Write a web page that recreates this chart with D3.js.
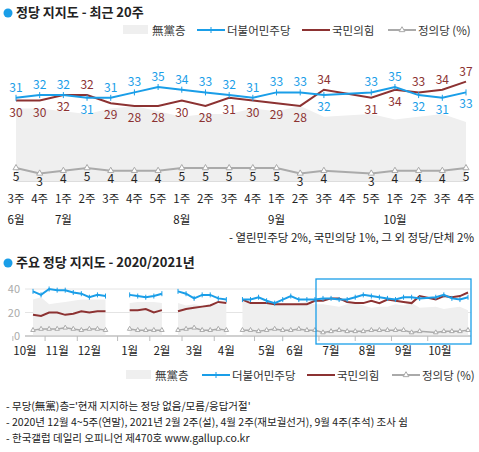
<!DOCTYPE html>
<html><head><meta charset="utf-8">
<script src="https://cdn.jsdelivr.net/npm/d3@7"></script>
<style>body{margin:0;background:#fff}svg{font-family:"Noto Sans CJK KR","Noto Sans",sans-serif}</style>
</head><body><svg id="c" width="479" height="452"></svg>
<script>
// recent 20 weeks
const weeks = ["3주","4주","1주","2주","3주","4주","5주","1주","2주","3주","4주","1주","2주","3주","4주","5주","1주","2주","3주","4주"];
const months = [["6월",0],["7월",2],["8월",7],["9월",11],["10월",16]];
const dem = [31,32,32,31,31,33,35,34,33,32,31,33,33,32,null,33,35,32,31,33];
const ppp = [30,30,32,32,29,28,28,30,28,31,30,29,28,34,null,31,34,33,34,37];
const jus = [5,3,4,5,4,4,4,5,5,5,5,5,3,4,null,3,4,4,4,5];
const none = [27,27,26,25,27,28,26,24,25,25,27,26,28,24,null,25,23,24,25,22];

// long series 2020/2021 (null = no survey)
const demL = [38,35,40,39,39,37,36,33,35,34,null,null,35,34,33,34,36,null,38,36,32,35,35,32,31,null,
  31,31,33,30,28,31,34,31,31].concat(dem);
const pppL = [18,17,20,20,18,19,21,20,21,21,null,null,22,22,23,20,22,null,21,23,24,25,26,29,28,null,
  31,28,28,28,27,27,27,27,27].concat(ppp);
const jusL = [5,6,6,6,7,6,5,6,6,5,null,null,6,5,5,5,5,null,5,6,7,5,5,6,5,null,
  5,5,4,5,6,5,5,6,5].concat(jus);
const noneL = [31,33,27,28,29,30,31,31,31,31,null,null,28,29,29,29,28,null,28,26,27,26,27,27,27,null,
  30,29,28,29,28,28,27,28,29].concat(none);
const breaksL = [10,11,17,25]; // weeks where the long chart lines break
const monthsL = [["10월",-1],["11월",3],["12월",7],["1월",12],["2월",16],["3월",20],["4월",24],["5월",29],["6월",32.5],["7월",37],["8월",41.5],["9월",46],["10월",50.5]];
const notes = ["- 무당(無黨)층='현재 지지하는 정당 없음/모름/응답거절'",
  "- 2020년 12월 4~5주(연말), 2021년 2월 2주(설), 4월 2주(재보궐선거), 9월 4주(추석) 조사 쉼",
  "- 한국갤럽 데일리 오피니언 제470호 www.gallup.co.kr"];

const BLUE="#1a9ee8", RED="#8c3232", GRAY="#aaa", AREA="#efefef";
const svg = d3.select("#c");

function title(y, t){
  svg.append("circle").attr("cx",8).attr("cy",y-4).attr("r",4.5).attr("fill",BLUE);
  svg.append("text").attr("x",16).attr("y",y).attr("font-size",13).attr("font-weight","bold").attr("fill","#222").text(t);
}
function legend(y, xs){
  const g = svg.append("g").attr("font-size",11.5).attr("fill","#333");
  g.append("rect").attr("x",xs[0]).attr("y",y-7).attr("width",25).attr("height",9).attr("fill",AREA);
  g.append("text").attr("x",xs[0]+29).attr("y",y+3).text("無黨층");
  [[BLUE,"더불어민주당"],[RED,"국민의힘"],[GRAY,"정의당 (%)"]].forEach((d,i)=>{
    const x = xs[i+1];
    g.append("line").attr("x1",x).attr("x2",x+28).attr("y1",y-2).attr("y2",y-2).attr("stroke",d[0]).attr("stroke-width",2);
    if(i==0) g.append("line").attr("x1",x+14).attr("x2",x+14).attr("y1",y-5).attr("y2",y+1).attr("stroke",BLUE);
    if(i==2) g.append("path").attr("d",d3.symbol(d3.symbolTriangle,14)()).attr("transform",`translate(${x+14},${y-2})`).attr("fill","#fff").attr("stroke",GRAY);
    g.append("text").attr("x",x+30).attr("y",y+3).text(d[1]);
  });
}

// ---- top chart
title(17,"정당 지지도 - 최근 20주");
legend(32,[123,197,302,388]);
const x = d3.scalePoint().domain(d3.range(20)).range([16,466]);
const y = d3.scaleLinear().domain([0,40]).range([181.5,73.5]);
const idx = d3.range(20);
const def = a => idx.filter(i => a[i]!=null);
svg.append("path").attr("fill",AREA)
  .attr("d",d3.area().x(i=>x(i)).y0(y(0)).y1(i=>y(none[i]))(def(none)));
svg.append("line").attr("x1",16).attr("x2",466).attr("y1",y(0)).attr("y2",y(0)).attr("stroke","#ddd");
const ln = a => d3.line().x(i=>x(i)).y(i=>y(a[i]));
svg.append("path").attr("fill","none").attr("stroke",GRAY).attr("stroke-width",2).attr("d",ln(jus)(def(jus)));
svg.append("path").attr("fill","none").attr("stroke",RED).attr("stroke-width",2).attr("d",ln(ppp)(def(ppp)));
svg.append("path").attr("fill","none").attr("stroke",BLUE).attr("stroke-width",2).attr("d",ln(dem)(def(dem)));
svg.selectAll(".dm").data(def(dem)).join("line").attr("x1",i=>x(i)).attr("x2",i=>x(i))
  .attr("y1",i=>y(dem[i])-3).attr("y2",i=>y(dem[i])+3).attr("stroke",BLUE);
svg.selectAll(".jm").data(def(jus)).join("path").attr("d",d3.symbol(d3.symbolTriangle,16)())
  .attr("transform",i=>`translate(${x(i)},${y(jus[i])})`).attr("fill","#fff").attr("stroke",GRAY);
const lab = svg.append("g").attr("font-size",12).attr("text-anchor","middle");
def(dem).forEach(i=>{
  const up = dem[i]>=ppp[i];
  lab.append("text").attr("x",x(i)).attr("y",up?y(dem[i])-6:y(dem[i])+16).attr("fill",BLUE).text(dem[i]);
  lab.append("text").attr("x",x(i)).attr("y",up?y(ppp[i])+16:y(ppp[i])-6).attr("fill",RED).text(ppp[i]);
  lab.append("text").attr("x",x(i)).attr("y",y(jus[i])+12.5).attr("fill","#222").text(jus[i]);
});
const xa = svg.append("g").attr("font-size",11.5).attr("text-anchor","middle").attr("fill","#222");
weeks.forEach((w,i)=>xa.append("text").attr("x",x(i)).attr("y",203).text(w));
months.forEach(m=>xa.append("text").attr("x",x(m[1])).attr("y",224).text(m[0]));
svg.append("text").attr("x",474).attr("y",242).attr("text-anchor","end").attr("font-size",11.5).attr("fill","#222")
  .text("- 열린민주당 2%, 국민의당 1%, 그 외 정당/단체 2%");

// ---- bottom chart
title(267,"주요 정당 지지도 - 2020/2021년");
const n = demL.length, ix = d3.range(n);
const x2 = d3.scaleLinear().domain([0,n-1]).range([33,468]);
const y2 = d3.scaleLinear().domain([0,40]).range([336,289]);
[0,20,40].forEach(v=>{
  svg.append("line").attr("x1",25).attr("x2",471).attr("y1",y2(v)).attr("y2",y2(v)).attr("stroke",v?"#e4e4e4":"#ccc");
  svg.append("text").attr("x",20).attr("y",y2(v)+4).attr("text-anchor","end").attr("font-size",11).attr("fill","#aaa").text(v);
});
// contiguous segments split at the survey breaks, skipping other empty weeks
const segs=[]; let cur=[];
ix.forEach(i=>{ if(breaksL.includes(i)){ if(cur.length) segs.push(cur); cur=[]; } else if(demL[i]!=null) cur.push(i); });
if(cur.length) segs.push(cur);
const ln2 = a => d3.line().x(i=>x2(i)).y(i=>y2(a[i]));
segs.forEach(s=>svg.append("path").attr("fill",AREA).attr("d",d3.area().x(i=>x2(i)).y0(y2(0)).y1(i=>y2(noneL[i]))(s)));
[[jusL,GRAY,1.5],[pppL,RED,2],[demL,BLUE,2]].forEach(([a,c,w])=>
  segs.forEach(s=>svg.append("path").attr("fill","none").attr("stroke",c).attr("stroke-width",w).attr("d",ln2(a)(s))));
const dL = ix.filter(i=>demL[i]!=null);
svg.selectAll(".dm2").data(dL).join("line").attr("x1",i=>x2(i)).attr("x2",i=>x2(i))
  .attr("y1",i=>y2(demL[i])-2.5).attr("y2",i=>y2(demL[i])+2.5).attr("stroke",BLUE);
svg.selectAll(".jm2").data(dL).join("path").attr("d",d3.symbol(d3.symbolTriangle,9)())
  .attr("transform",i=>`translate(${x2(i)},${y2(jusL[i])})`).attr("fill","#fff").attr("stroke",GRAY);
svg.append("line").attr("x1",25).attr("x2",471).attr("y1",y2(0)).attr("y2",y2(0)).attr("stroke","#bbb");
monthsL.forEach(m=>{
  svg.append("line").attr("x1",x2(m[1]-1.5)).attr("x2",x2(m[1]-1.5)).attr("y1",336).attr("y2",341).attr("stroke","#bbb");
  svg.append("text").attr("x",x2(m[1])).attr("y",355).attr("text-anchor","middle").attr("font-size",11.5).attr("fill","#222").text(m[0]);
});
svg.append("rect").attr("x",316).attr("y",279).attr("width",155).attr("height",65).attr("fill","none").attr("stroke",BLUE).attr("stroke-width",1.3);
legend(377,[126,202,307,392]);
notes.forEach((t,i)=>svg.append("text").attr("x",6).attr("y",410+i*16).attr("font-size",10.5).attr("fill","#222").text(t));
</script></body></html>
